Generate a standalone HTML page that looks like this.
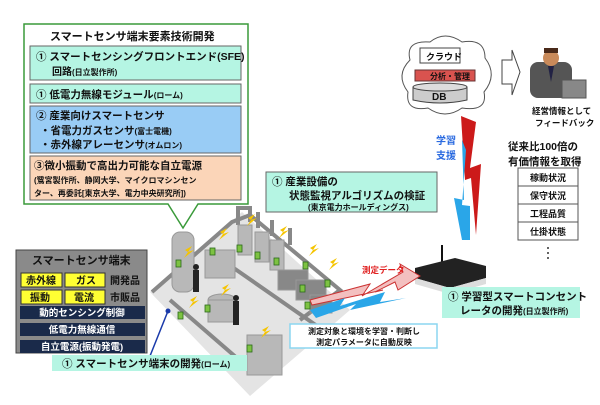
<!DOCTYPE html>
<html><head><meta charset="utf-8"><style>
body{margin:0;background:#fff}
svg{display:block}
text{font-family:"Liberation Sans","Noto Sans CJK JP",sans-serif;font-weight:bold}
</style></head><body>
<svg width="600" height="405" viewBox="0 0 600 405" xmlns="http://www.w3.org/2000/svg">
<!-- factory floor -->
<polygon points="150,292 242,212 350,310 250,396" fill="#e4e4e4"/>
<g fill="none" stroke="#888" stroke-width="4">
<polyline points="152,292 232,222 250,215 340,290 300,320"/>
<polyline points="170,300 245,365"/>
<polyline points="225,262 330,335"/>
<polyline points="238,225 238,208 250,208 250,222"/>
<polyline points="258,212 258,228"/><polyline points="272,220 272,236"/><polyline points="290,228 290,245"/>
</g>
<g fill="#b8b8b8" stroke="#999">
<rect x="172" y="232" width="22" height="60" rx="8"/>
<rect x="205" y="250" width="30" height="28"/>
<rect x="238" y="225" width="14" height="30"/><rect x="255" y="232" width="14" height="30"/><rect x="270" y="240" width="14" height="30"/>
<rect x="278" y="270" width="30" height="20" fill="#888"/><rect x="296" y="280" width="30" height="20" fill="#888"/>
<rect x="310" y="295" width="22" height="18" fill="#888"/>
<ellipse cx="222" cy="300" rx="14" ry="6"/><rect x="208" y="300" width="28" height="22"/>
<rect x="247" y="335" width="35" height="40"/>
</g>
<g fill="#222"><circle cx="196" cy="267" r="3"/><rect x="193" y="270" width="6" height="22"/><circle cx="236" cy="298" r="3"/><rect x="233" y="301" width="6" height="24"/></g>
<g fill="#f5c400">
<polygon points="185,250 192,246 188,252 194,250 184,258 188,252"/><polygon points="220,232 227,228 223,234 229,232 219,240 223,234"/><polygon points="248,218 255,214 251,220 257,218 247,226 251,220"/><polygon points="280,230 287,226 283,232 289,230 279,238 283,232"/><polygon points="310,248 317,244 313,250 319,248 309,256 313,250"/><polygon points="330,262 337,258 333,264 339,262 329,270 333,264"/><polygon points="190,300 197,296 193,302 199,300 189,308 193,302"/><polygon points="222,288 229,284 225,290 231,288 221,296 225,290"/><polygon points="262,330 269,326 265,332 271,330 261,338 265,332"/>
</g>
<g fill="#7dc242" stroke="#2a6a1a" stroke-width="0.8">
<rect x="176" y="260" width="5" height="7"/><rect x="210" y="248" width="5" height="7"/><rect x="237" y="245" width="5" height="7"/><rect x="255" y="252" width="5" height="7"/><rect x="274" y="258" width="5" height="7"/><rect x="303" y="262" width="5" height="7"/><rect x="300" y="285" width="5" height="7"/><rect x="325" y="280" width="5" height="7"/><rect x="305" y="302" width="5" height="7"/><rect x="178" y="312" width="5" height="7"/><rect x="205" y="305" width="5" height="7"/><rect x="247" y="345" width="5" height="7"/>
</g>
<g fill="#111">
<!-- green callout -->
<path d="M24,24 H248 V204 H198 L183,228 L168,204 H24 Z" fill="#fff" stroke="#3a9a3a" stroke-width="1.5"/>
<text x="50" y="40" font-size="11">スマートセンサ端末要素技術開発</text>
<rect x="30" y="46" width="211" height="34" fill="#b5f5e3" stroke="#666"/>
<text x="36" y="60" font-size="10.5">① スマートセンシングフロントエンド(SFE)</text>
<text x="52" y="75" font-size="10">回路<tspan font-size="8">(日立製作所)</tspan></text>
<rect x="30" y="84" width="211" height="19" fill="#b5f5e3" stroke="#666"/>
<text x="36" y="98" font-size="10.5">① 低電力無線モジュール<tspan font-size="8">(ローム)</tspan></text>
<rect x="30" y="106" width="211" height="47" fill="#99ccf5" stroke="#666"/>
<text x="36" y="119" font-size="10.5">② 産業向けスマートセンサ</text>
<text x="40" y="134" font-size="10.5">・省電力ガスセンサ<tspan font-size="8">(富士電機)</tspan></text>
<text x="40" y="148" font-size="10.5">・赤外線アレーセンサ<tspan font-size="8">(オムロン)</tspan></text>
<rect x="30" y="156" width="211" height="44" fill="#fbd5b8" stroke="#666"/>
<text x="34" y="169" font-size="10.5">③微小振動で高出力可能な自立電源</text>
<text x="34" y="183" font-size="8">(鷺宮製作所、静岡大学、マイクロマシンセン</text>
<text x="34" y="196" font-size="8">ター、再委託[東京大学、電力中央研究所])</text>
<rect x="266" y="172" width="171" height="40" fill="#b5f5e3" stroke="#666"/>
<text x="272" y="185" font-size="10.5">① 産業設備の</text>
<text x="289" y="199" font-size="10.5">状態監視アルゴリズムの検証</text>
<text x="308" y="210" font-size="8">(東京電力ホールディングス)</text>
<rect x="16" y="250" width="131" height="103" fill="#8a8a8a" stroke="#444"/>
<text x="32" y="264" font-size="11">スマートセンサ端末</text>
<g fill="#ffff33" stroke="#333"><rect x="21" y="273" width="41" height="14"/><rect x="65" y="273" width="40" height="14"/><rect x="21" y="290" width="41" height="14"/><rect x="65" y="290" width="40" height="14"/></g>
<text x="26" y="284" font-size="10">赤外線</text><text x="76" y="284" font-size="10">ガス</text><text x="110" y="284" font-size="10">開発品</text>
<text x="30" y="301" font-size="10">振動</text><text x="74" y="301" font-size="10">電流</text><text x="110" y="301" font-size="10">市販品</text>
<g fill="#1a2a4a"><rect x="20" y="306" width="125" height="13"/><rect x="20" y="323" width="125" height="13"/><rect x="20" y="340" width="125" height="13"/></g>
<g font-size="9.5" text-anchor="middle" fill="#fff"><text x="82" y="316">動的センシング制御</text><text x="82" y="333">低電力無線通信</text><text x="82" y="350">自立電源(振動発電)</text></g>
<line x1="150" y1="356" x2="168" y2="311" stroke="#1a3aaa" stroke-width="1.5"/><circle cx="168" cy="311" r="2.5" fill="#1a3aaa"/>
<rect x="52" y="355" width="195" height="16" fill="#b5f5e3"/>
<text x="62" y="367" font-size="10.5">① スマートセンサ端末の開発<tspan font-size="8">(ローム)</tspan></text>
<path d="M410,60 Q405,40 430,42 Q445,30 462,42 Q485,38 485,58 Q498,75 484,92 Q488,112 462,108 Q445,120 428,108 Q405,112 408,92 Q395,75 410,60 Z" fill="#fff" stroke="#555"/>
<rect x="420" y="48" width="40" height="15" fill="#fff" stroke="#444"/>
<text x="426" y="60" font-size="9">クラウド</text>
<rect x="415" y="70" width="60" height="11" fill="#d9534f" stroke="#633"/>
<text x="430" y="79" font-size="8">分析・管理</text>
<path d="M413,87 V100 Q440,106 467,100 V87" fill="#ccc" stroke="#444"/><ellipse cx="440" cy="87" rx="27" ry="4" fill="#ddd" stroke="#444"/>
<text x="432" y="100" font-size="10" font-weight="normal">DB</text>
<polygon points="502,60 512,60 512,50 520,72 512,95 512,84 502,84" fill="#fff" stroke="#444"/>
<rect x="530" y="62" width="42" height="36" rx="8" fill="#555"/>
<circle cx="551" cy="58" r="8" fill="#c98a5a"/><rect x="544" y="48" width="14" height="5" fill="#4a2a1a"/>
<polygon points="548,66 554,66 551,82" fill="#224"/>
<rect x="562" y="80" width="24" height="18" fill="#888" stroke="#555"/>
<text x="532" y="114" font-size="8.5">経営情報として</text>
<text x="535" y="126" font-size="8.5">フィードバック</text>
<text x="508" y="150" font-size="10.5">従来比100倍の</text>
<text x="508" y="165" font-size="10.5">有価情報を取得</text>
<g fill="#fff" stroke="#555"><rect x="518" y="168" width="60" height="18"/><rect x="518" y="186" width="60" height="18"/><rect x="518" y="204" width="60" height="18"/><rect x="518" y="222" width="60" height="18"/></g>
<g font-size="9" text-anchor="middle"><text x="548" y="181">稼動状況</text><text x="548" y="199">保守状況</text><text x="548" y="217">工程品質</text><text x="548" y="235">仕掛状態</text></g>
<g fill="#333"><circle cx="548" cy="248" r="1"/><circle cx="548" cy="253" r="1"/><circle cx="548" cy="258" r="1"/></g>
<polygon points="461,116 476,122 470,168 481,164 476,235 471,178 465,180" fill="#cc1a1a"/>
<polygon points="462,140 466,150 462,205 470,206 470,240 462,240 454,198 464,200" fill="#2aa6e8"/>
<text x="436" y="144" font-size="10" fill="#2a6ae0">学習</text>
<text x="436" y="159" font-size="10" fill="#2a6ae0">支援</text>
<line x1="442" y1="245" x2="442" y2="265" stroke="#111" stroke-width="2"/>
<polygon points="415,268 455,258 486,266 486,278 450,288 415,278" fill="#222"/>
<polygon points="415,278 450,288 486,278 486,284 450,294 415,284" fill="#ddd"/>
<rect x="442" y="287" width="138" height="31" fill="#b5f5e3"/>
<text x="448" y="300" font-size="10.5">① 学習型スマートコンセント</text>
<text x="460" y="314" font-size="10.5">レータの開発<tspan font-size="8">(日立製作所)</tspan></text>
<polygon points="310,300 370,284 362,296 403,272 400,264 420,276 398,290 395,282 375,292 383,290 312,305" fill="#f3c0c0" stroke="#c33"/>
<text x="362" y="273" font-size="8.5" fill="#e02020">測定データ</text>
<polygon points="310,310 345,298 340,306 385,292 380,302 406,298 350,310 356,304 316,318" fill="#2aa6e8"/>
<rect x="290" y="324" width="147" height="24" fill="#fff" stroke="#8cd6f0" stroke-width="1.5"/>
<text x="364" y="334" font-size="8" text-anchor="middle">測定対象と環境を学習・判断し</text>
<text x="364" y="345" font-size="8" text-anchor="middle">測定パラメータに自動反映</text>
</g>
</svg>
</body></html>
